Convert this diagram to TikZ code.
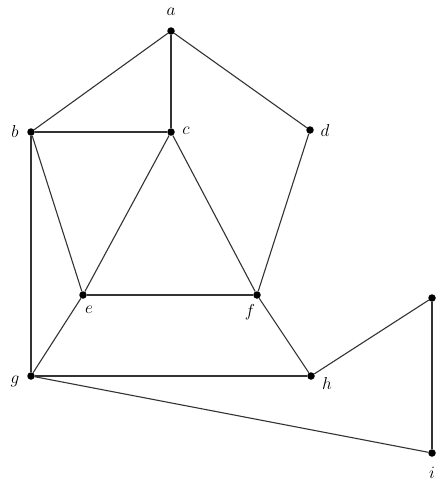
\documentclass[tikz,border=0pt]{standalone}
\begin{document}
\begin{tikzpicture}[x=1pt,y=-1pt,
  vtx/.style={circle,fill=black,inner sep=0pt,minimum size=7.5pt},
  lbl/.style={inner sep=0pt,font=\fontsize{19}{19}\selectfont},
  edge/.style={line width=1.1pt,draw=black!80}]
\useasboundingbox (0,0) rectangle (444,482);
\node[vtx] (a) at (171,31) {};
\node[vtx] (b) at (31,132) {};
\node[vtx] (c) at (171,132) {};
\node[vtx] (d) at (310,130) {};
\node[vtx] (e) at (83,295) {};
\node[vtx] (f) at (257,295) {};
\node[vtx] (g) at (31,376) {};
\node[vtx] (h) at (311,376) {};
\node[vtx] (k) at (432,298) {};
\node[vtx] (j) at (432,453) {};
\node[lbl] (la) at (171,12) {$a$};
\node[lbl] (lb) at (15,131) {$b$};
\node[lbl] (lc) at (186,131) {$c$};
\node[lbl] (ld) at (325,130) {$d$};
\node[lbl] (le) at (89,310) {$e$};
\node[lbl] (lf) at (250,312) {$f$};
\node[lbl] (lg) at (15,381) {$g$};
\node[lbl] (lh) at (327,383) {$h$};
\node[lbl] (lj) at (432,473) {$i$};
\draw[edge] (a) -- (b);
\draw[edge] (a) -- (c);
\draw[edge] (a) -- (d);
\draw[edge] (b) -- (c);
\draw[edge] (b) -- (e);
\draw[edge] (b) -- (g);
\draw[edge] (c) -- (e);
\draw[edge] (c) -- (f);
\draw[edge] (d) -- (f);
\draw[edge] (e) -- (f);
\draw[edge] (e) -- (g);
\draw[edge] (f) -- (h);
\draw[edge] (g) -- (h);
\draw[edge] (g) -- (j);
\draw[edge] (h) -- (k);
\draw[edge] (k) -- (j);
\end{tikzpicture}
\end{document}
